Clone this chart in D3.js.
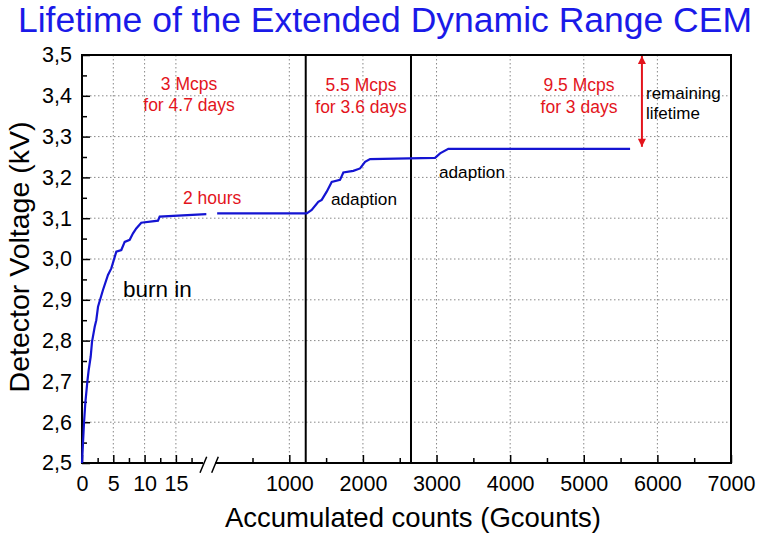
<!DOCTYPE html>
<html>
<head>
<meta charset="utf-8">
<script src="https://cdn.jsdelivr.net/npm/d3@7"></script>
<style>
  body { margin: 0; background: #fff; }
  svg { font-family: "Liberation Sans", Arial, sans-serif; }
  .grid line { stroke: #888; stroke-dasharray: 1.5 2.5; stroke-width: 1; }
  .axis text { font-size: 21.5px; fill: #000; }
  .axis line { stroke: #000; stroke-width: 1.5; }
</style>
</head>
<body>
<svg id="chart" width="767" height="533"></svg>
<script>
// burn-in part, left (expanded) axis segment, Gcounts
const leftCounts = [0, 0.16, 0.32, 0.53, 0.85, 1.07, 1.39, 1.6, 2.03, 2.28, 2.56, 3.35, 4.15, 4.68, 5.48, 6.28, 6.82, 7.62, 8.15, 8.67, 9.47, 12.14, 12.41, 19.86];
const leftVoltage = [2.5, 2.549, 2.598, 2.647, 2.699, 2.728, 2.761, 2.797, 2.834, 2.85, 2.883, 2.924, 2.961, 2.977, 3.018, 3.022, 3.042, 3.047, 3.063, 3.075, 3.089, 3.094, 3.104, 3.11];
// rest of the run, right axis segment
const rightCounts = [20, 1236, 1304, 1394, 1440, 1508, 1576, 1689, 1734, 1870, 1961, 2029, 2097, 2980, 3048, 3160, 5629];
const rightVoltage = [3.112, 3.112, 3.12, 3.14, 3.145, 3.165, 3.189, 3.194, 3.212, 3.216, 3.222, 3.238, 3.245, 3.248, 3.259, 3.27, 3.27];

const leftTicks = [0, 5, 10, 15];
const leftMinor = [2.5, 7.5, 12.5, 17.5];
const rightTicks = [1000, 2000, 3000, 4000, 5000, 6000, 7000];
const rightMinor = [500, 1500, 2500, 3500, 4500, 5500, 6500];
const yTicks = [2.5, 2.6, 2.7, 2.8, 2.9, 3.0, 3.1, 3.2, 3.3, 3.4, 3.5];
const yMinor = [2.55, 2.65, 2.75, 2.85, 2.95, 3.05, 3.15, 3.25, 3.35, 3.45];

const phaseLines = [1223, 2653];
const lifetimeAt = 5790, lifetimeFrom = 3.275, lifetimeTo = 3.5;

const plotL = 82, plotR = 731, plotT = 55, plotB = 463;
const breakL = 203, breakR = 215;

const svg = d3.select("#chart");
const y = d3.scaleLinear().domain([2.5, 3.5]).range([plotB, plotT]);
const xl = d3.scaleLinear().domain([0, 20]).range([plotL, 207.2]);
const xr = d3.scaleLinear().domain([0, 7000]).range([215.7, plotR]);
const fmt = d => d3.format(".1f")(d).replace(".", ",");

// dotted grid
const grid = svg.append("g").attr("class", "grid");
grid.selectAll(".h").data(yTicks.slice(1, -1)).join("line")
  .attr("class", "h")
  .attr("x1", plotL).attr("x2", plotR).attr("y1", y).attr("y2", y);
grid.selectAll(".vl").data(leftTicks.slice(1)).join("line")
  .attr("class", "vl")
  .attr("x1", xl).attr("x2", xl).attr("y1", plotT).attr("y2", plotB);
grid.selectAll(".vr").data(rightTicks.slice(0, -1)).join("line")
  .attr("class", "vr")
  .attr("x1", xr).attr("x2", xr).attr("y1", plotT).attr("y2", plotB);

// axes, ticks inward
function axisG(gen) {
  const g = svg.append("g").attr("class", "axis").call(gen);
  g.select(".domain").remove();
  return g;
}
axisG(d3.axisBottom(xl).tickValues(leftTicks).tickSize(-8).tickPadding(13).tickFormat(d3.format("d")))
  .attr("transform", `translate(0,${plotB})`);
axisG(d3.axisBottom(xl).tickValues(leftMinor).tickSize(-5).tickFormat(""))
  .attr("transform", `translate(0,${plotB})`);
axisG(d3.axisBottom(xr).tickValues(rightTicks).tickSize(-8).tickPadding(13).tickFormat(d3.format("d")))
  .attr("transform", `translate(0,${plotB})`);
axisG(d3.axisBottom(xr).tickValues(rightMinor).tickSize(-5).tickFormat(""))
  .attr("transform", `translate(0,${plotB})`);
axisG(d3.axisLeft(y).tickValues(yTicks).tickSize(-8).tickPadding(10).tickFormat(fmt))
  .attr("transform", `translate(${plotL},0)`);
axisG(d3.axisLeft(y).tickValues(yMinor).tickSize(-5).tickFormat(""))
  .attr("transform", `translate(${plotL},0)`);

// frame with axis break
const frame = svg.append("g").attr("stroke", "#000").attr("stroke-width", 2).attr("fill", "none");
frame.append("path").attr("d",
  `M${breakL},${plotB}H${plotL}V${plotT}H${plotR}V${plotB}H${breakR}`);
frame.append("path").attr("stroke-width", 1.5)
  .attr("d", `M200,472.7L206.7,456.7M211.7,472.7L218.3,456.7`);

// phase boundaries
svg.selectAll(".phase").data(phaseLines).join("line")
  .attr("class", "phase")
  .attr("x1", xr).attr("x2", xr).attr("y1", plotT).attr("y2", plotB)
  .attr("stroke", "#000").attr("stroke-width", 2);

// voltage curve
const line = d3.line().x(d => d[0]).y(d => y(d[1]));
const blue = "#1414d2";
svg.append("path")
  .datum(leftCounts.map((c, i) => [xl(c), leftVoltage[i]]))
  .attr("d", line).attr("fill", "none").attr("stroke", blue).attr("stroke-width", 2.2);
svg.append("path")
  .datum(rightCounts.map((c, i) => [xr(c), rightVoltage[i]]))
  .attr("d", line).attr("fill", "none").attr("stroke", blue).attr("stroke-width", 2.2);

// remaining lifetime arrow
const red = "#e3141c";
const defs = svg.append("defs");
defs.append("marker").attr("id", "head").attr("viewBox", "0 0 10 10")
  .attr("refX", 10).attr("refY", 5).attr("markerWidth", 12).attr("markerHeight", 8)
  .attr("markerUnits", "userSpaceOnUse").attr("orient", "auto-start-reverse")
  .append("path").attr("d", "M0,0L10,5L0,10Z").attr("fill", red);
svg.append("line")
  .attr("x1", xr(lifetimeAt)).attr("x2", xr(lifetimeAt))
  .attr("y1", y(lifetimeFrom)).attr("y2", y(lifetimeTo) + 1)
  .attr("stroke", red).attr("stroke-width", 2)
  .attr("marker-start", "url(#head)").attr("marker-end", "url(#head)");

// labels
function label(txt, x0, y0, size, color, anchor) {
  svg.append("text").attr("x", x0).attr("y", y0)
    .attr("font-size", size).attr("fill", color)
    .attr("text-anchor", anchor || "start").text(txt);
}
label("3 Mcps", 189, 90, 17.5, red, "middle");
label("for 4.7 days", 189, 111, 17.5, red, "middle");
label("5.5 Mcps", 361, 91, 17.5, red, "middle");
label("for 3.6 days", 361, 112.5, 17.5, red, "middle");
label("9.5 Mcps", 579, 91, 17.5, red, "middle");
label("for 3 days", 579, 112.5, 17.5, red, "middle");
label("2 hours", 183, 203.5, 17.5, red);
label("remaining", 646, 98.5, 17, "#000");
label("lifetime", 646, 119, 17, "#000");
label("adaption", 331, 205, 17.2, "#000");
label("adaption", 439, 178, 17.2, "#000");
label("burn in", 123, 297, 22.5, "#000");

label("Lifetime of the Extended Dynamic Range CEM", 385, 32, 35.5, "#1a1ae8", "middle");
label("Accumulated counts (Gcounts)", 413, 527, 27.5, "#000", "middle");
svg.append("text").attr("transform", "translate(29,257) rotate(-90)")
  .attr("font-size", 28.5).attr("text-anchor", "middle").text("Detector Voltage (kV)");
</script>
</body>
</html>
